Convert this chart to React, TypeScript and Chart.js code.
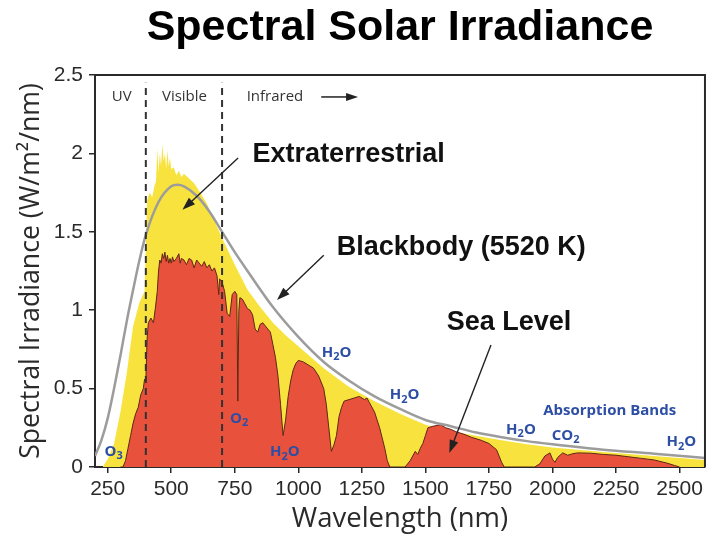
import React, { useEffect, useRef } from 'react';
import { Chart, registerables } from 'chart.js';

Chart.register(...registerables);

// ---------- data ----------
const extraWavelengths = [230, 250, 275, 300, 325, 350, 375, 395, 405, 415, 425, 435, 440, 445, 450, 455, 460, 465, 470, 475, 480, 485, 490, 495, 500, 510, 520, 530, 540, 550, 570, 590, 610, 640, 670, 700, 750, 800, 850, 900, 950, 1000, 1100, 1200, 1300, 1400, 1500, 1600, 1700, 1800, 1900, 2000, 2200, 2400, 2600];
const extraIrradiance = [0, 0.05, 0.15, 0.35, 0.6, 0.9, 1.05, 1.12, 1.7, 1.75, 1.72, 1.8, 1.82, 2.03, 1.88, 2.0, 1.92, 2.06, 1.95, 2.0, 1.9, 2.02, 1.92, 1.97, 1.9, 1.91, 1.86, 1.89, 1.85, 1.87, 1.84, 1.81, 1.76, 1.68, 1.57, 1.46, 1.29, 1.13, 1.02, 0.92, 0.84, 0.77, 0.63, 0.51, 0.42, 0.34, 0.27, 0.23, 0.2, 0.17, 0.145, 0.125, 0.095, 0.07, 0.045];

const seaWavelengths = [300, 310, 320, 330, 340, 350, 360, 370, 380, 390, 395, 400, 405, 410, 420, 430, 438, 445, 450, 455, 460, 465, 470, 475, 480, 485, 490, 495, 500, 505, 510, 520, 530, 535, 540, 550, 560, 570, 580, 590, 600, 610, 620, 630, 640, 650, 660, 670, 680, 687, 690, 700, 710, 720, 730, 740, 750, 758, 762, 766, 770, 780, 790, 800, 810, 820, 830, 840, 850, 860, 870, 880, 890, 900, 910, 920, 930, 940, 950, 960, 970, 980, 990, 1000, 1020, 1040, 1060, 1080, 1100, 1110, 1120, 1130, 1140, 1150, 1160, 1170, 1180, 1200, 1220, 1240, 1260, 1270, 1280, 1300, 1320, 1340, 1350, 1360, 1420, 1440, 1460, 1470, 1480, 1490, 1500, 1510, 1530, 1560, 1580, 1600, 1620, 1650, 1680, 1720, 1750, 1780, 1800, 1810, 1930, 1950, 1970, 1990, 2000, 2010, 2020, 2040, 2060, 2080, 2100, 2150, 2200, 2250, 2300, 2350, 2400, 2450, 2480, 2500];
const seaIrradiance = [0, 0, 0.04, 0.12, 0.2, 0.28, 0.34, 0.38, 0.46, 0.5, 0.56, 0.55, 0.82, 0.92, 0.95, 0.92, 1.02, 1.12, 1.25, 1.32, 1.3, 1.36, 1.33, 1.37, 1.31, 1.35, 1.3, 1.33, 1.3, 1.34, 1.31, 1.33, 1.36, 1.3, 1.33, 1.32, 1.29, 1.33, 1.32, 1.27, 1.32, 1.3, 1.28, 1.31, 1.27, 1.29, 1.25, 1.27, 1.22, 1.1, 1.2, 1.18, 1.12, 0.98, 0.96, 1.1, 1.12, 1.1, 0.42, 1.0, 1.08, 1.07, 1.04, 1.01, 1.0, 0.97, 0.88, 0.86, 0.91, 0.92, 0.9, 0.88, 0.86, 0.78, 0.7, 0.58, 0.4, 0.2, 0.3, 0.45, 0.55, 0.62, 0.66, 0.68, 0.67, 0.65, 0.63, 0.58, 0.5, 0.4, 0.25, 0.1, 0.14, 0.2, 0.32, 0.38, 0.42, 0.43, 0.44, 0.45, 0.43, 0.44, 0.41, 0.35, 0.25, 0.12, 0.04, 0, 0, 0.04, 0.1, 0.08, 0.12, 0.15, 0.2, 0.25, 0.26, 0.27, 0.25, 0.24, 0.225, 0.21, 0.19, 0.17, 0.15, 0.11, 0.03, 0, 0, 0.02, 0.07, 0.09, 0.05, 0.03, 0.06, 0.09, 0.075, 0.085, 0.09, 0.088, 0.08, 0.075, 0.065, 0.055, 0.045, 0.025, 0.01, 0];

const bbWavelengths = [200, 225, 250, 275, 300, 325, 350, 375, 400, 450, 500, 525, 550, 600, 650, 700, 750, 800, 900, 1000, 1100, 1200, 1300, 1400, 1500, 1600, 1700, 1800, 1900, 2000, 2200, 2400, 2600];
const bbIrradiance = [0.07, 0.17, 0.31, 0.5, 0.71, 0.93, 1.13, 1.32, 1.48, 1.69, 1.79, 1.8, 1.79, 1.73, 1.63, 1.5, 1.37, 1.25, 1.02, 0.83, 0.67, 0.55, 0.45, 0.37, 0.3, 0.26, 0.22, 0.19, 0.165, 0.145, 0.11, 0.085, 0.057];

const xTickValues = [250, 500, 750, 1000, 1250, 1500, 1750, 2000, 2250, 2500];
const yTickValues = [0, 0.5, 1, 1.5, 2, 2.5];
const bandEdges = [400, 700];
const bandTop = 2.45;

// ---------- annotations (data coordinates) ----------
const regionLabels = [
  { text: 'UV', x: 305, y: 2.36 },
  { text: 'Visible', x: 552, y: 2.36 },
  { text: 'Infrared', x: 908, y: 2.36 },
];
const infraredArrow = { x1: 1090, x2: 1235, y: 2.36 };
const calloutLabels = [
  { text: 'Extraterrestrial', x: 1198, y: 1.99 },
  { text: 'Blackbody (5520 K)', x: 1641, y: 1.4 },
  { text: 'Sea Level', x: 1829, y: 0.92 },
];
const calloutArrows = [
  { x1: 763, y1: 1.97, x2: 544, y2: 1.64 },
  { x1: 1100, y1: 1.35, x2: 916, y2: 1.065 },
  { x1: 1758, y1: 0.778, x2: 1594, y2: 0.089 },
];
const bandLabels = [
  { text: 'O3', x: 273, y: 0.1 },
  { text: 'O2', x: 767, y: 0.31 },
  { text: 'H2O', x: 947, y: 0.096 },
  { text: 'H2O', x: 1151, y: 0.73 },
  { text: 'H2O', x: 1418, y: 0.46 },
  { text: 'H2O', x: 1876, y: 0.24 },
  { text: 'CO2', x: 2052, y: 0.2 },
  { text: 'Absorption Bands', x: 2225, y: 0.36 },
  { text: 'H2O', x: 2507, y: 0.16 },
];

const SANS = '"Liberation Sans", Arial, sans-serif';
const OPEN = '"Open Sans", "Liberation Sans", sans-serif';

function toPoints(xs: number[], ys: number[]) {
  return xs.map((x, i) => ({ x, y: ys[i] }));
}

function drawArrow(ctx: CanvasRenderingContext2D, x1: number, y1: number, x2: number, y2: number, head = 11, half = 4) {
  const a = Math.atan2(y2 - y1, x2 - x1);
  const c = Math.cos(a), s = Math.sin(a);
  ctx.beginPath();
  ctx.moveTo(x1, y1);
  ctx.lineTo(x2 - c * head * 0.7, y2 - s * head * 0.7);
  ctx.stroke();
  ctx.beginPath();
  ctx.moveTo(x2, y2);
  ctx.lineTo(x2 - c * head + s * half, y2 - s * head - c * half);
  ctx.lineTo(x2 - c * head - s * half, y2 - s * head + c * half);
  ctx.closePath();
  ctx.fill();
}

function drawChem(ctx: CanvasRenderingContext2D, text: string, cx: number, cy: number, size: number) {
  const big = `bold ${size}px ${OPEN}`;
  const small = `bold ${Math.round(size * 0.72)}px ${OPEN}`;
  const parts = text.split('').map((ch) => ({ ch, sub: /[0-9]/.test(ch) }));
  let total = 0;
  parts.forEach((p) => {
    ctx.font = p.sub ? small : big;
    total += ctx.measureText(p.ch).width;
  });
  let x = cx - total / 2;
  ctx.textAlign = 'left';
  ctx.textBaseline = 'middle';
  parts.forEach((p) => {
    ctx.font = p.sub ? small : big;
    ctx.fillText(p.ch, x, cy + (p.sub ? size * 0.3 : 0));
    x += ctx.measureText(p.ch).width;
  });
}

const overlayPlugin = {
  id: 'overlay',
  afterDatasetsDraw(chart: any) {
    const { ctx, chartArea: a, scales } = chart;
    const xs = scales.x, ys = scales.y;
    ctx.save();
    // frame (top & right)
    ctx.strokeStyle = '#2a2a2a';
    ctx.lineWidth = 2;
    ctx.beginPath();
    ctx.moveTo(a.left, a.top);
    ctx.lineTo(a.right, a.top);
    ctx.lineTo(a.right, a.bottom);
    ctx.stroke();

    // region labels
    ctx.fillStyle = '#333';
    ctx.font = `15px ${OPEN}`;
    ctx.textAlign = 'center';
    ctx.textBaseline = 'middle';
    regionLabels.forEach((l) => ctx.fillText(l.text, xs.getPixelForValue(l.x), ys.getPixelForValue(l.y)));
    ctx.strokeStyle = '#222';
    ctx.fillStyle = '#222';
    ctx.lineWidth = 1.5;
    drawArrow(ctx, xs.getPixelForValue(infraredArrow.x1), ys.getPixelForValue(infraredArrow.y), xs.getPixelForValue(infraredArrow.x2), ys.getPixelForValue(infraredArrow.y), 12, 4);

    // callouts
    ctx.fillStyle = '#111';
    ctx.font = `bold 27px ${SANS}`;
    ctx.textAlign = 'center';
    ctx.textBaseline = 'middle';
    calloutLabels.forEach((l) => ctx.fillText(l.text, xs.getPixelForValue(l.x), ys.getPixelForValue(l.y)));
    ctx.strokeStyle = '#222';
    ctx.fillStyle = '#222';
    ctx.lineWidth = 1.4;
    calloutArrows.forEach((r) =>
      drawArrow(ctx, xs.getPixelForValue(r.x1), ys.getPixelForValue(r.y1), xs.getPixelForValue(r.x2), ys.getPixelForValue(r.y2), 13, 4.5)
    );

    // absorption band labels
    ctx.fillStyle = '#2d4ea5';
    bandLabels.forEach((l) => drawChem(ctx, l.text, xs.getPixelForValue(l.x), ys.getPixelForValue(l.y), 15));
    ctx.restore();
  },
};

export default function App() {
  const ref = useRef<HTMLCanvasElement | null>(null);

  useEffect(() => {
    if (!ref.current) return;
    const axisColor = '#2a2a2a';
    const chart = new Chart(ref.current, {
      type: 'line',
      data: {
        datasets: [
          ...bandEdges.map((e) => ({
            label: `edge ${e}`,
            data: [{ x: e, y: 0 }, { x: e, y: bandTop }],
            borderColor: '#333',
            borderWidth: 2,
            borderDash: [7, 5],
            pointRadius: 0,
            fill: false,
            order: 0,
          })),
          {
            label: 'Blackbody (5520 K)',
            data: toPoints(bbWavelengths, bbIrradiance),
            borderColor: '#9c9c9c',
            borderWidth: 2.5,
            pointRadius: 0,
            fill: false,
            cubicInterpolationMode: 'monotone',
            order: 1,
          },
          {
            label: 'Sea Level',
            data: toPoints(seaWavelengths, seaIrradiance),
            borderColor: '#5e2616',
            borderWidth: 1,
            backgroundColor: '#e8523d',
            pointRadius: 0,
            fill: 'origin',
            tension: 0,
            order: 2,
          },
          {
            label: 'Extraterrestrial',
            data: toPoints(extraWavelengths, extraIrradiance),
            borderColor: 'rgba(0,0,0,0)',
            borderWidth: 0,
            backgroundColor: '#f8e33e',
            pointRadius: 0,
            fill: 'origin',
            tension: 0,
            order: 3,
          },
        ],
      },
      options: {
        animation: false,
        responsive: true,
        maintainAspectRatio: false,
        layout: { padding: { top: 0, right: 2, left: 0, bottom: 0 } },
        plugins: {
          legend: { display: false },
          tooltip: { enabled: false },
          title: {
            display: true,
            text: 'Spectral Solar Irradiance',
            fullSize: false,
            color: '#000',
            font: { family: SANS, size: 43, weight: 'bold' },
            padding: { top: 2, bottom: 21.4 },
          },
        },
        scales: {
          x: {
            type: 'linear',
            min: 200,
            max: 2600,
            afterBuildTicks: (s: any) => {
              s.ticks = xTickValues.map((v) => ({ value: v }));
            },
            afterFit: (s: any) => {
              s.height = 71;
            },
            ticks: {
              callback: (v: any) => String(v),
              font: { family: SANS, size: 21 },
              color: '#2a2a2a',
              padding: 4,
              maxRotation: 0,
              autoSkip: false,
            },
            grid: { drawOnChartArea: false, drawTicks: true, tickLength: 6, color: axisColor, lineWidth: 1.5 },
            border: { display: true, color: axisColor, width: 2 },
            title: {
              display: true,
              text: 'Wavelength (nm)',
              color: '#2a2a2a',
              font: { family: OPEN, size: 27.5 },
              padding: { top: 0, bottom: 2 },
            },
          },
          y: {
            min: 0,
            max: 2.5,
            afterBuildTicks: (s: any) => {
              s.ticks = yTickValues.map((v) => ({ value: v }));
            },
            afterFit: (s: any) => {
              s.width = 95;
            },
            ticks: {
              callback: (v: any) => String(v),
              font: { family: SANS, size: 21 },
              color: '#2a2a2a',
              padding: 6,
            },
            grid: { drawOnChartArea: false, drawTicks: true, tickLength: 6, color: axisColor, lineWidth: 1.5 },
            border: { display: true, color: axisColor, width: 2 },
            title: {
              display: true,
              text: 'Spectral Irradiance (W/m²/nm)',
              color: '#2a2a2a',
              font: { family: OPEN, size: 26.7 },
              padding: { top: 15, bottom: 0 },
            },
          },
        },
      },
      plugins: [overlayPlugin],
    } as any);
    return () => chart.destroy();
  }, []);

  return (
    <div style={{ position: 'fixed', left: 0, top: 0, width: 707, height: 538, background: '#fff' }}>
      <canvas ref={ref} />
    </div>
  );
}
